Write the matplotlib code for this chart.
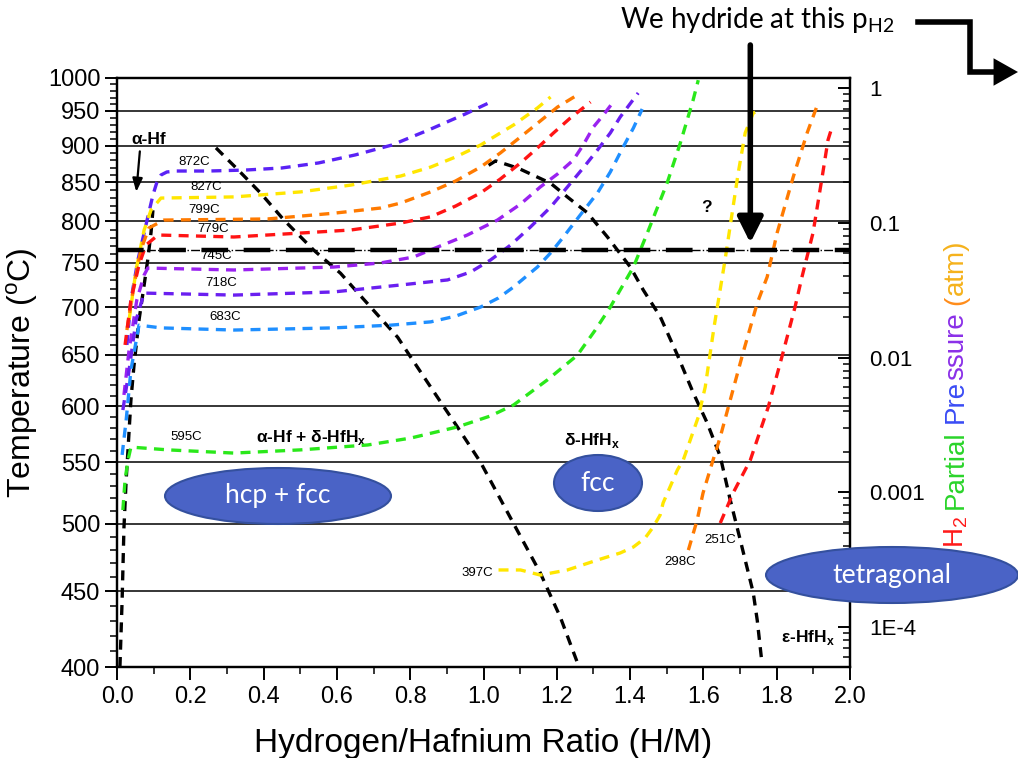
import matplotlib
matplotlib.use('Agg')
import matplotlib.pyplot as plt
from matplotlib.patches import Ellipse, FancyArrowPatch
from matplotlib.lines import Line2D
from matplotlib.ticker import FixedLocator, NullFormatter, LogLocator

plt.rcParams['font.family'] = ['Liberation Sans', 'DejaVu Sans']
plt.rcParams['mathtext.fontset'] = 'custom'
plt.rcParams['mathtext.rm'] = 'Liberation Sans'
plt.rcParams['mathtext.bf'] = 'Liberation Sans:bold'

# P-C isotherms: H/M ratio vs H2 partial pressure (atm)
iso872_x = [0.027, 0.038, 0.057, 0.079, 0.098, 0.109, 0.120, 0.136, 0.161, 0.25, 0.35, 0.45, 0.55, 0.65, 0.75, 0.85, 0.95, 1.014]
iso872_p = [0.0124, 0.0267, 0.053, 0.0965, 0.161, 0.201, 0.227, 0.239, 0.243, 0.243, 0.247, 0.256, 0.279, 0.320, 0.379, 0.490, 0.644, 0.778]
iso827_x = [0.033, 0.052, 0.074, 0.093, 0.120, 0.319, 0.501, 0.638, 0.774, 0.856, 0.924, 0.992, 1.046, 1.082, 1.147, 1.183]
iso827_p = [0.019, 0.0447, 0.0886, 0.125, 0.153, 0.156, 0.170, 0.191, 0.223, 0.260, 0.309, 0.379, 0.466, 0.534, 0.714, 0.862]
iso799_x = [0.027, 0.044, 0.065, 0.087, 0.128, 0.411, 0.591, 0.719, 0.774, 0.856, 0.924, 0.992, 1.046, 1.101, 1.155, 1.202, 1.256]
iso799_p = [0.016, 0.0317, 0.0629, 0.0917, 0.105, 0.107, 0.118, 0.129, 0.1405, 0.170, 0.205, 0.260, 0.331, 0.435, 0.572, 0.726, 0.892]
iso779_x = [0.022, 0.038, 0.060, 0.079, 0.112, 0.319, 0.501, 0.638, 0.774, 0.856, 0.924, 0.992, 1.046, 1.101, 1.147, 1.191, 1.237, 1.292]
iso779_p = [0.0124, 0.0267, 0.0487, 0.0685, 0.0813, 0.0786, 0.0841, 0.0886, 0.0998, 0.111, 0.1335, 0.167, 0.212, 0.279, 0.360, 0.466, 0.602, 0.791]
iso745_x = [0.019, 0.033, 0.054, 0.074, 0.084, 0.319, 0.591, 0.719, 0.809, 0.875, 0.956, 1.038, 1.101, 1.155, 1.202, 1.245, 1.272, 1.300, 1.327, 1.354]
iso745_p = [0.00527, 0.0114, 0.0267, 0.0410, 0.0462, 0.0447, 0.0470, 0.0504, 0.0558, 0.0662, 0.0813, 0.105, 0.138, 0.185, 0.231, 0.293, 0.379, 0.516, 0.633, 0.791]
iso718_x = [0.016, 0.033, 0.052, 0.074, 0.319, 0.591, 0.774, 0.902, 0.965, 1.019, 1.074, 1.128, 1.183, 1.229, 1.272, 1.311, 1.346, 1.373, 1.422]
iso718_p = [0.00407, 0.00807, 0.019, 0.0301, 0.0291, 0.0307, 0.0346, 0.0377, 0.0432, 0.053, 0.0685, 0.0932, 0.131, 0.185, 0.256, 0.348, 0.466, 0.612, 0.923]
iso683_x = [0.014, 0.025, 0.038, 0.060, 0.120, 0.319, 0.591, 0.747, 0.856, 0.924, 0.992, 1.041, 1.082, 1.147, 1.183, 1.218, 1.264, 1.311, 1.346, 1.381, 1.409, 1.433]
iso683_p = [0.00189, 0.00343, 0.00807, 0.0174, 0.0166, 0.0160, 0.0166, 0.0174, 0.0184, 0.0203, 0.0237, 0.0277, 0.0334, 0.0470, 0.0598, 0.0786, 0.1145, 0.167, 0.239, 0.366, 0.507, 0.702]
iso595_x = [0.016, 0.022, 0.030, 0.038, 0.139, 0.319, 0.501, 0.684, 0.801, 0.929, 1.019, 1.082, 1.174, 1.256, 1.305, 1.346, 1.409, 1.447, 1.501, 1.537, 1.572, 1.586]
iso595_p = [0.000736, 0.00123, 0.00173, 0.00216, 0.00206, 0.00195, 0.00206, 0.00224, 0.00252, 0.00305, 0.00368, 0.00444, 0.00681, 0.0104, 0.0160, 0.0237, 0.0470, 0.0841, 0.198, 0.392, 0.819, 1.15]
iso397_x = [1.041, 1.101, 1.155, 1.229, 1.311, 1.373, 1.409, 1.441, 1.463, 1.482, 1.490, 1.529, 1.545, 1.586, 1.605, 1.629, 1.659, 1.695, 1.714, 1.736, 1.755]
iso397_p = [0.000264, 0.000264, 0.000242, 0.000264, 0.000313, 0.000353, 0.000391, 0.000456, 0.000550, 0.000676, 0.000830, 0.00146, 0.00173, 0.00361, 0.00604, 0.0168, 0.0530, 0.235, 0.466, 0.655, 0.690]
iso298_x = [1.559, 1.583, 1.599, 1.624, 1.646, 1.708, 1.747, 1.774, 1.801, 1.845, 1.883, 1.913]
iso298_p = [0.000371, 0.000621, 0.000985, 0.00165, 0.00257, 0.0108, 0.0254, 0.0397, 0.0841, 0.219, 0.466, 0.778]
iso251_x = [1.646, 1.681, 1.728, 1.777, 1.817, 1.850, 1.869, 1.899, 1.924, 1.940, 1.951]
iso251_p = [0.000589, 0.000985, 0.00173, 0.00429, 0.0108, 0.0237, 0.0397, 0.0841, 0.219, 0.413, 0.516]

iso_names = ['872C', '827C', '799C', '779C', '745C', '718C', '683C', '595C', '397C', '298C', '251C']
iso_label_x = [0.21, 0.243, 0.237, 0.262, 0.27, 0.283, 0.294, 0.188, 0.984, 1.537, 1.646]
iso_label_T = [878, 844, 814, 791, 758, 727, 690, 572, 463, 471, 487]

# phase boundaries: H/M ratio vs temperature (C)
alpha_x = [0.008, 0.014, 0.019, 0.025, 0.030, 0.038, 0.046, 0.060, 0.071, 0.084, 0.093, 0.098]
alpha_T = [400, 444, 497, 535, 561, 606, 638, 686, 716, 754, 787, 814]
delta_lo_x = [0.270, 0.330, 0.392, 0.455, 0.537, 0.610, 0.657, 0.766, 0.801, 0.891, 0.929, 0.992, 1.082, 1.155, 1.210, 1.259]
delta_lo_T = [897, 867, 836, 802, 765, 738, 716, 668, 648, 600, 581, 550, 500, 463, 432, 401]
delta_hi_x = [1.014, 1.033, 1.095, 1.183, 1.229, 1.283, 1.338, 1.401, 1.436, 1.482, 1.529, 1.572, 1.610, 1.646, 1.673, 1.700, 1.736, 1.747, 1.760]
delta_hi_T = [873, 879, 869, 849, 831, 811, 781, 745, 719, 690, 650, 613, 585, 555, 519, 488, 449, 430, 402]

p_hydride = 0.063

temp_ticks = [400, 450, 500, 550, 600, 650, 700, 750, 800, 850, 900, 950, 1000]
temp_minor = [t for t in range(400, 1001, 10) if t % 50 != 0]
x_ticks = [0.0, 0.2, 0.4, 0.6, 0.8, 1.0, 1.2, 1.4, 1.6, 1.8, 2.0]
p_ticks = [1e-4, 1e-3, 1e-2, 0.1, 1]
p_tick_labels = ['1E-4', '0.001', '0.01', '0.1', '1']

W, H = 1018, 758
fig = plt.figure(figsize=(W / 100, H / 100), dpi=100)
ax = fig.add_axes([117 / W, 91 / H, 733 / W, 589 / H])

ax.set_yscale('log')
ax.set_xlim(0, 2.0)
ax.set_ylim(400, 1000)
ax.set_yticks(temp_ticks)
ax.set_yticklabels([str(t) for t in temp_ticks])
ax.yaxis.set_minor_locator(FixedLocator(temp_minor))
ax.yaxis.set_minor_formatter(NullFormatter())
ax.set_xticks(x_ticks)
ax.set_xticklabels(['%.1f' % v for v in x_ticks])
ax.set_xticks([v + 0.1 for v in x_ticks[:-1]], minor=True)
for t in temp_ticks:
    ax.axhline(t, color='black', lw=1.1, zorder=1)

ax.tick_params(axis='y', which='major', direction='out', length=9, width=1.4, labelsize=17, pad=3)
ax.tick_params(axis='y', which='minor', direction='out', length=5, width=1.1)
ax.tick_params(axis='x', which='major', direction='out', length=9, width=1.4, labelsize=17, pad=5)
ax.tick_params(axis='x', which='minor', direction='out', length=5, width=1.1)
for s in ax.spines.values():
    s.set_linewidth(1.6)

blk = dict(color='black', lw=2.4, dashes=(3.0, 2.2), zorder=3)
ax.plot(alpha_x, alpha_T, **blk)
ax.plot(delta_lo_x, delta_lo_T, **blk)
ax.plot(delta_hi_x, delta_hi_T, **blk)

for name, lx, lt in zip(iso_names, iso_label_x, iso_label_T):
    ax.text(lx, lt, name, fontsize=9.5, ha='center', va='center', zorder=4)

bold = dict(fontsize=12.5, fontweight='bold', ha='center', va='center', zorder=4)
ax.text(0.529, 572, r'α-Hf + δ-HfH$_\mathbf{x}$', **bold)
ax.text(1.297, 569, r'δ-HfH$_\mathbf{x}$', **bold)
ax.text(1.885, 419, r'ε-HfH$_\mathbf{x}$', **bold)
ax.text(0.087, 909, 'α-Hf', **bold)
ax.text(1.608, 817, '?', **bold)
ax.annotate('', xy=(0.052, 834), xytext=(0.063, 896),
            arrowprops=dict(arrowstyle='-|>,head_length=0.8,head_width=0.3', lw=1.6, color='black'))

ax.set_xlabel('Hydrogen/Hafnium Ratio (H/M)', fontsize=24, labelpad=14)
ax.set_ylabel('Temperature ($^{\\rm o}$C)', fontsize=23, labelpad=6)

# pressure axis on the right
ax2 = ax.twinx()
ax2.set_yscale('log')
ax2.set_ylim(5.02e-5, 1.193)
ax2.set_yticks(p_ticks)
ax2.set_yticklabels(p_tick_labels)
ax2.yaxis.set_minor_locator(LogLocator(base=10, subs=range(2, 10)))
ax2.yaxis.set_minor_formatter(NullFormatter())
ax2.tick_params(axis='y', which='major', direction='in', length=9, width=1.4, labelsize=16, pad=14)
ax2.tick_params(axis='y', which='minor', direction='in', length=5, width=1.1)
for s in ax2.spines.values():
    s.set_linewidth(1.6)

iso_data = [
    (iso872_x, iso872_p, '#5a22f5'),
    (iso827_x, iso827_p, '#ffe600'),
    (iso799_x, iso799_p, '#ff7a00'),
    (iso779_x, iso779_p, '#ff1414'),
    (iso745_x, iso745_p, '#9a22f0'),
    (iso718_x, iso718_p, '#6a1ff0'),
    (iso683_x, iso683_p, '#1f8fff'),
    (iso595_x, iso595_p, '#2ae81a'),
    (iso397_x, iso397_p, '#ffe600'),
    (iso298_x, iso298_p, '#ff7a00'),
    (iso251_x, iso251_p, '#ff1414'),
]
for xs, ps, c in iso_data:
    ax2.plot(xs, ps, color=c, lw=2.4, dashes=(3.0, 2.2), zorder=3,
             solid_joinstyle='round', dash_joinstyle='round')

# hydriding pressure line
ax2.axhline(p_hydride, color='black', lw=1.0, ls='-.', zorder=4)
ax2.axhline(p_hydride, color='black', lw=3.2, dashes=(6, 3.5), zorder=4)

# vertical arrow onto the hydriding pressure
ax2.annotate('', xy=(1.728, 0.071), xycoords='data',
             xytext=(1.728, 1 - 45 / H), textcoords=('data', 'figure fraction'),
             arrowprops=dict(arrowstyle='-|>,head_length=0.7,head_width=0.35',
                             lw=4, color='black', mutation_scale=22, shrinkA=0, shrinkB=0),
             annotation_clip=False)

fig.text(620 / W, 1 - 20 / H, 'We hydride at this p$_{\\mathregular{H2}}$', fontsize=20,
         fontfamily=['Lato', 'DejaVu Sans'], ha='left', va='center')
fig.add_artist(Line2D([918 / W, 970 / W, 970 / W, 1000 / W],
                      [1 - 22 / H, 1 - 22 / H, 1 - 72 / H, 1 - 72 / H],
                      transform=fig.transFigure, color='black', lw=4, solid_joinstyle='miter'))
fig.add_artist(FancyArrowPatch(
    (995 / W, 1 - 72 / H), (1018 / W, 1 - 72 / H), transform=fig.transFigure,
    arrowstyle='-|>,head_length=0.8,head_width=0.45', mutation_scale=22,
    color='black', lw=0, shrinkA=0, shrinkB=0))

# phase region bubbles
for cx, cy, w, h, txt in [(278, 496, 226, 56, 'hcp + fcc'),
                          (598, 483, 88, 56, 'fcc'),
                          (892, 575, 252, 56, 'tetragonal')]:
    fig.add_artist(Ellipse((cx / W, 1 - cy / H), w / W, h / H, transform=fig.transFigure,
                           facecolor='#4a63c6', edgecolor='#34509e', lw=1.5, zorder=5))
    fig.text(cx / W, 1 - cy / H, txt, color='white', fontsize=19,
             fontfamily=['Lato', 'DejaVu Sans'], ha='center', va='center', zorder=6)

# multicoloured right-hand axis title
renderer = fig.canvas.get_renderer()
words = [[('H$_2$', '#ff1a1a')],
         [('Partial', '#2ad42a')],
         [('Pre', '#3a4cf5'), ('ssure', '#8b30e8')],
         [('(', '#ff8c1a'), ('atm)', '#f5b21c')]]
ypos = 548
fs = 20
gap = 0.26 * fs * 100 / 72
for word in words:
    for chunk, c in word:
        t = fig.text(963 / W, 1 - ypos / H, chunk, color=c, fontsize=fs, rotation=90,
                     rotation_mode='anchor', ha='left', va='baseline')
        ypos -= t.get_window_extent(renderer).height
    ypos -= gap

fig.savefig('out.png', dpi=100)
